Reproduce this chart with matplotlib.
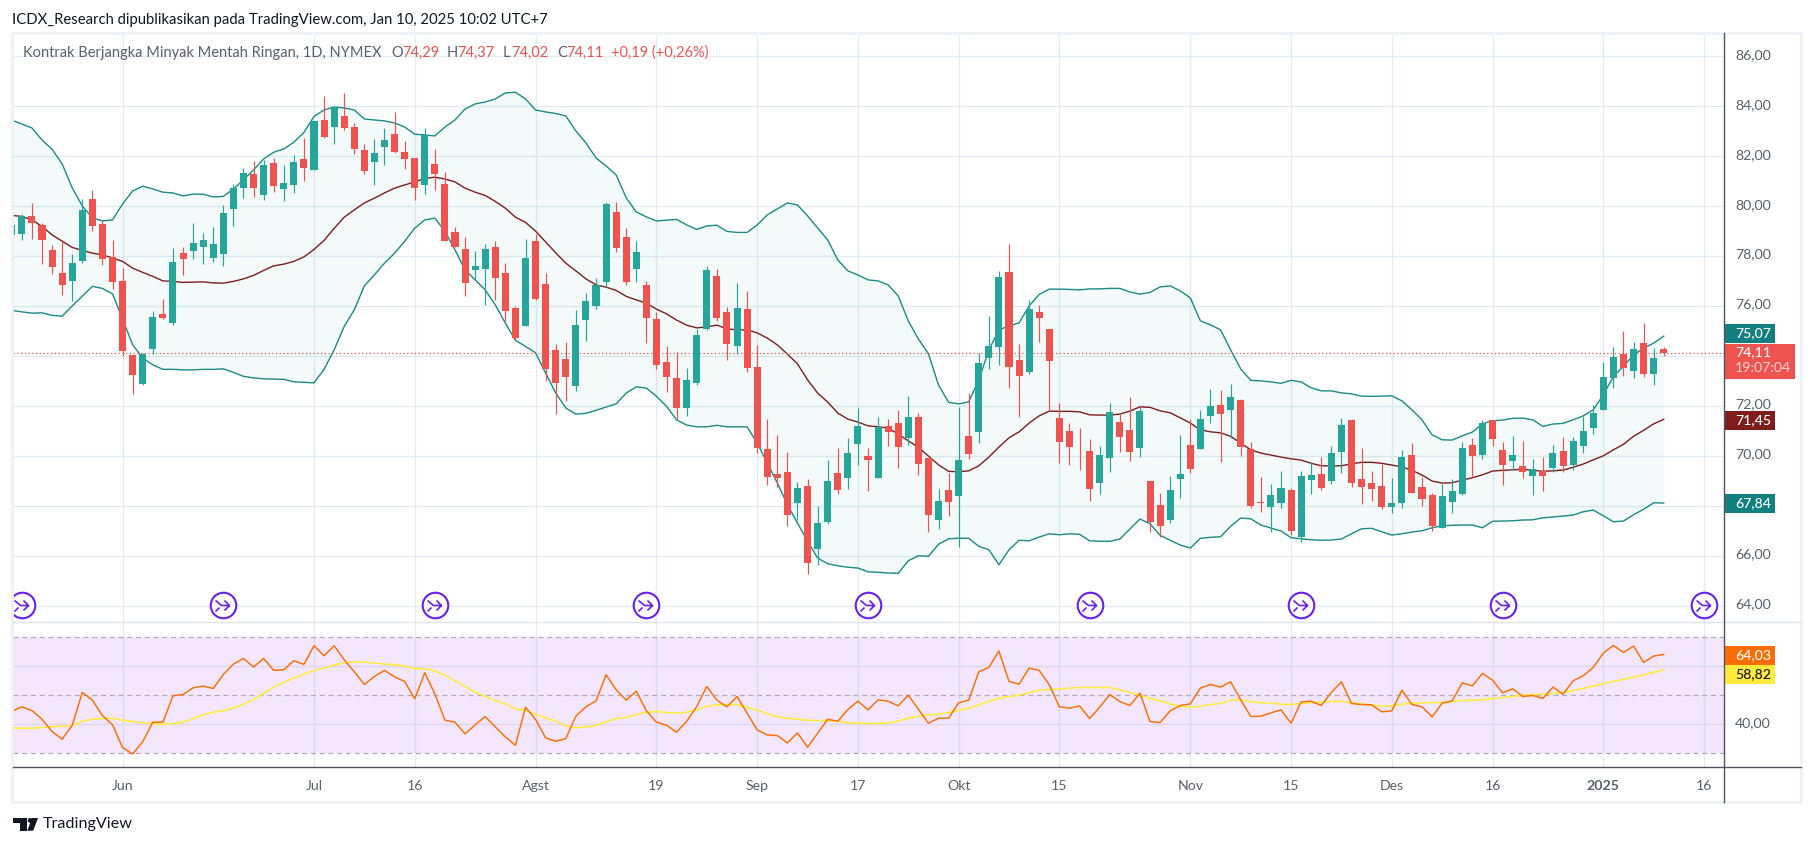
import matplotlib
matplotlib.use('Agg')
import matplotlib.pyplot as plt
from matplotlib.patches import Rectangle, Polygon, Circle
from matplotlib.path import Path
from matplotlib.transforms import ScaledTranslation
import numpy as np

plt.rcParams['font.family'] = ['Lato', 'DejaVu Sans']

# daily candles (bar number = trading day on screen)
opens = [78.83, 78.89, 79.61, 79.25, 78.25, 77.33, 77.01, 77.81, 80.29, 79.29,
         77.97, 77.01, 74.05, 72.89, 74.29, 75.69, 75.33, 78.13, 78.21, 78.37,
         77.93, 78.09, 79.89, 80.73, 81.29, 80.45, 81.73, 80.69, 80.85, 81.89,
         81.45, 83.45, 83.17, 83.61, 83.17, 82.25, 81.77, 82.37, 82.89, 82.17,
         81.93, 80.85, 81.69, 80.89, 78.97, 78.29, 77.45, 77.49, 78.37, 77.33,
         75.93, 75.21, 78.61, 76.89, 74.25, 73.89, 72.81, 75.45, 76.01, 76.97,
         79.77, 78.77, 77.49, 76.85, 75.49, 73.77, 73.13, 71.93, 72.93, 75.09,
         77.21, 75.77, 74.41, 75.89, 73.57, 70.29, 69.29, 69.37, 68.13, 68.81,
         66.29, 67.37, 69.33, 69.13, 70.49, 70.01, 69.13, 71.21, 71.33, 70.73,
         71.57, 69.93, 67.45, 68.65, 68.41, 70.81, 70.97, 73.93, 74.37, 77.37,
         73.85, 73.37, 75.77, 75.09, 71.53, 71.01, 70.69, 70.21, 68.93, 69.93,
         71.37, 71.05, 70.33, 69.01, 68.05, 67.45, 69.09, 70.45, 70.29, 71.61,
         72.05, 71.85, 72.25, 70.29, 68.17, 67.97, 68.13, 68.65, 66.77, 69.05,
         69.29, 69.01, 70.17, 71.45, 69.09, 68.93, 68.81, 67.97, 68.13, 70.05,
         68.77, 68.45, 67.13, 68.17, 68.49, 70.45, 70.05, 71.45, 70.25, 69.81,
         69.61, 69.21, 69.41, 69.53, 70.21, 69.65, 70.41, 71.13, 71.85, 73.13,
         74.09, 73.41, 74.53, 73.29, 74.29]
highs = [79.3, 79.69, 80.13, 79.32, 78.45, 78.63, 78.08, 80.29, 80.65, 79.44,
         78.65, 77.53, 74.05, 74.12, 75.81, 76.29, 78.33, 78.37, 79.33, 78.93,
         79.17, 80.05, 80.89, 81.53, 81.81, 81.85, 81.93, 81.65, 82.05, 82.73,
         83.41, 84.41, 83.97, 84.53, 83.33, 82.49, 82.69, 83.13, 83.77, 82.61,
         81.93, 83.13, 82.29, 81.37, 79.17, 78.77, 78.21, 78.49, 78.61, 77.73,
         76.01, 78.69, 78.89, 77.33, 74.49, 74.57, 75.85, 76.53, 77.13, 80.17,
         80.17, 79.13, 78.61, 77.01, 75.77, 74.41, 74.17, 73.53, 75.09, 77.61,
         77.49, 75.97, 76.93, 76.61, 74.45, 71.49, 70.85, 70.17, 68.97, 69.09,
         68.01, 69.85, 70.33, 70.73, 71.93, 70.33, 71.57, 71.49, 71.85, 72.41,
         71.73, 69.93, 68.69, 69.33, 71.97, 72.53, 74.13, 75.61, 77.41, 78.49,
         74.49, 76.25, 76.05, 75.09, 72.13, 71.33, 71.13, 70.69, 70.41, 72.13,
         71.69, 72.37, 71.97, 69.01, 68.53, 69.21, 70.85, 71.49, 71.85, 72.69,
         72.65, 72.89, 72.29, 70.57, 69.17, 68.89, 69.41, 68.73, 69.41, 69.77,
         69.97, 70.41, 71.53, 71.49, 70.33, 69.41, 69.69, 69.13, 70.25, 70.53,
         69.17, 68.53, 68.89, 69.09, 70.57, 70.73, 71.45, 71.45, 70.57, 70.81,
         70.61, 69.89, 69.97, 70.45, 70.77, 70.77, 71.61, 72.05, 73.77, 74.37,
         75.01, 74.57, 75.33, 74.33, 74.37]
lows = [78.75, 78.63, 78.69, 77.69, 77.29, 76.45, 76.19, 77.73, 79.01, 77.65,
        76.69, 74.01, 72.49, 72.85, 74.09, 75.5, 75.25, 77.25, 77.89, 77.69,
        77.77, 77.61, 79.21, 80.33, 80.37, 80.25, 80.57, 80.21, 80.53, 81.01,
        81.43, 82.73, 82.49, 83.05, 82.09, 81.29, 80.85, 81.65, 82.13, 81.49,
        80.25, 80.49, 80.65, 78.61, 78.37, 76.41, 77.05, 76.05, 76.25, 75.41,
        74.65, 75.21, 76.25, 73.01, 71.69, 72.21, 72.61, 74.61, 75.89, 76.77,
        78.17, 76.85, 76.97, 74.53, 73.49, 72.57, 71.49, 71.61, 72.85, 75.05,
        75.41, 73.85, 74.09, 73.37, 70.13, 68.85, 68.77, 67.21, 67.45, 65.29,
        65.65, 67.29, 68.49, 68.69, 69.65, 68.61, 69.13, 70.41, 69.53, 70.45,
        69.25, 66.97, 67.09, 67.61, 66.37, 69.89, 70.53, 73.49, 73.65, 72.73,
        71.57, 73.29, 74.57, 71.85, 69.73, 69.65, 69.45, 68.21, 68.49, 69.37,
        70.17, 69.81, 69.97, 66.97, 66.77, 67.33, 68.33, 69.33, 70.29, 71.33,
        69.77, 70.73, 70.01, 67.93, 67.77, 66.97, 67.93, 66.85, 66.57, 68.49,
        68.65, 68.89, 69.33, 68.77, 68.09, 68.21, 67.89, 67.73, 67.93, 68.53,
        68.01, 67.01, 67.13, 67.73, 68.45, 69.17, 69.89, 70.41, 68.85, 69.45,
        69.13, 68.45, 68.61, 69.37, 69.37, 69.45, 70.13, 70.89, 71.85, 72.73,
        73.21, 73.13, 73.17, 72.85, 74.02]
closes = [79.25, 79.61, 79.31, 78.65, 77.57, 76.85, 77.73, 79.85, 79.21, 77.89,
          76.97, 74.21, 73.25, 74.09, 75.57, 75.53, 77.77, 77.89, 78.53, 78.65,
          78.49, 79.73, 80.73, 81.33, 80.73, 81.65, 80.81, 80.93, 81.77, 81.53,
          83.41, 82.77, 83.93, 83.13, 82.29, 81.41, 82.13, 82.65, 82.17, 81.89,
          80.73, 82.85, 81.29, 78.61, 78.37, 76.93, 77.61, 78.29, 77.13, 75.81,
          74.73, 77.93, 76.29, 73.49, 72.93, 73.17, 75.25, 76.21, 76.85, 80.09,
          78.33, 76.97, 78.17, 75.53, 73.65, 73.17, 71.93, 73.05, 74.85, 77.45,
          75.53, 74.49, 75.93, 73.53, 70.33, 69.17, 69.13, 67.65, 68.73, 65.73,
          67.33, 69.01, 68.65, 70.13, 71.21, 69.85, 71.17, 70.97, 70.37, 71.57,
          69.69, 67.65, 68.21, 68.17, 69.85, 70.09, 73.73, 74.41, 77.17, 73.57,
          73.21, 75.89, 75.53, 73.81, 70.57, 70.37, 70.67, 68.69, 70.05, 71.77,
          70.77, 70.17, 71.81, 67.37, 67.21, 68.65, 69.29, 69.49, 71.49, 72.01,
          71.69, 72.37, 70.37, 68.01, 68.13, 68.45, 68.73, 67.01, 69.21, 69.25,
          68.73, 70.13, 71.25, 68.93, 68.77, 68.69, 67.97, 68.13, 69.97, 68.53,
          68.29, 67.21, 68.41, 68.61, 70.33, 70.01, 71.33, 70.69, 69.65, 70.05,
          69.37, 69.49, 69.21, 70.13, 69.61, 70.61, 71.01, 71.73, 73.17, 73.97,
          73.53, 74.29, 73.29, 73.93, 74.11]

# Bollinger bands
bb_upper = [83.44, 83.29, 83.13, 82.65, 82.28, 81.69, 80.73, 80.01, 79.53, 79.41,
            79.45, 80.09, 80.61, 80.80, 80.69, 80.56, 80.53, 80.41, 80.48, 80.48,
            80.37, 80.39, 80.69, 81.05, 81.45, 81.89, 82.16, 82.29, 82.56, 82.95,
            83.59, 83.85, 83.97, 83.93, 83.85, 83.49, 83.45, 83.41, 83.33, 83.17,
            82.88, 82.85, 82.81, 83.17, 83.45, 83.89, 84.09, 84.17, 84.29, 84.53,
            84.56, 84.29, 83.85, 83.77, 83.71, 83.61, 83.01, 82.53, 81.93, 81.61,
            81.25, 80.33, 79.77, 79.57, 79.41, 79.44, 79.47, 79.25, 79.07, 79.21,
            79.24, 78.99, 78.95, 78.95, 79.25, 79.65, 79.89, 80.13, 80.05, 79.61,
            79.13, 78.65, 77.85, 77.41, 77.25, 77.05, 77.01, 76.85, 76.41, 75.41,
            74.69, 74.09, 72.85, 72.15, 72.09, 72.17, 73.05, 74.25, 75.05, 75.21,
            75.33, 76.01, 76.47, 76.68, 76.68, 76.67, 76.65, 76.69, 76.69, 76.71,
            76.71, 76.57, 76.48, 76.55, 76.77, 76.81, 76.61, 76.33, 75.41, 75.25,
            75.05, 74.25, 73.49, 73.03, 73.01, 72.97, 72.91, 73.03, 72.97, 72.73,
            72.61, 72.61, 72.53, 72.49, 72.40, 72.39, 72.40, 72.41, 72.21, 71.85,
            71.45, 70.85, 70.65, 70.64, 70.81, 70.96, 71.29, 71.41, 71.44, 71.51,
            71.52, 71.45, 71.19, 71.28, 71.31, 71.45, 71.61, 71.85, 72.45, 73.19,
            73.59, 74.05, 74.32, 74.52, 74.80]
bb_basis = [79.63, 79.59, 79.45, 79.19, 78.85, 78.60, 78.35, 78.23, 78.12, 78.05,
            77.93, 77.79, 77.52, 77.35, 77.19, 77.01, 76.99, 76.95, 76.96, 76.97,
            76.93, 76.92, 76.99, 77.09, 77.23, 77.43, 77.61, 77.68, 77.79, 77.97,
            78.27, 78.63, 79.11, 79.56, 79.85, 80.13, 80.32, 80.53, 80.72, 80.85,
            80.97, 81.11, 81.16, 81.09, 80.97, 80.72, 80.56, 80.43, 80.19, 79.92,
            79.56, 79.35, 79.00, 78.57, 78.13, 77.72, 77.41, 77.09, 76.85, 76.76,
            76.63, 76.39, 76.25, 76.12, 75.88, 75.69, 75.44, 75.24, 75.13, 75.17,
            75.24, 75.09, 75.05, 75.05, 74.93, 74.72, 74.45, 74.08, 73.69, 73.05,
            72.52, 72.16, 71.72, 71.48, 71.36, 71.21, 71.17, 71.12, 70.88, 70.61,
            70.35, 70.00, 69.65, 69.39, 69.37, 69.41, 69.61, 69.96, 70.36, 70.73,
            70.97, 71.32, 71.61, 71.80, 71.79, 71.79, 71.77, 71.65, 71.64, 71.64,
            71.68, 71.80, 71.97, 71.95, 71.81, 71.73, 71.53, 71.32, 71.05, 70.97,
            70.93, 70.79, 70.52, 70.25, 70.12, 70.04, 69.96, 69.89, 69.84, 69.71,
            69.61, 69.61, 69.61, 69.69, 69.75, 69.75, 69.71, 69.64, 69.57, 69.43,
            69.24, 69.00, 68.92, 68.93, 69.04, 69.13, 69.25, 69.40, 69.43, 69.45,
            69.47, 69.43, 69.39, 69.41, 69.44, 69.55, 69.68, 69.85, 70.01, 70.25,
            70.47, 70.79, 71.03, 71.29, 71.47]
bb_lower = [75.83, 75.77, 75.72, 75.73, 75.63, 75.60, 76.01, 76.40, 76.79, 76.71,
            76.49, 75.48, 74.45, 73.92, 73.65, 73.47, 73.47, 73.45, 73.45, 73.47,
            73.47, 73.49, 73.35, 73.19, 73.13, 73.09, 73.08, 73.07, 72.97, 72.95,
            72.93, 73.47, 74.25, 75.19, 75.85, 76.81, 77.25, 77.72, 78.12, 78.59,
            79.12, 79.45, 79.52, 78.99, 78.25, 77.45, 77.05, 76.65, 76.05, 75.32,
            74.63, 74.39, 74.13, 73.32, 72.52, 71.92, 71.68, 71.71, 71.83, 71.96,
            72.09, 72.52, 72.77, 72.72, 72.39, 71.99, 71.45, 71.24, 71.17, 71.17,
            71.23, 71.17, 71.17, 71.17, 70.52, 69.72, 68.92, 68.05, 67.32, 66.59,
            65.92, 65.69, 65.61, 65.55, 65.52, 65.37, 65.35, 65.32, 65.31, 65.81,
            66.01, 65.99, 66.47, 66.69, 66.71, 66.71, 66.39, 66.25, 65.65, 66.25,
            66.63, 66.61, 66.76, 66.89, 66.85, 66.89, 66.87, 66.61, 66.59, 66.59,
            66.68, 67.08, 67.48, 67.29, 66.83, 66.63, 66.44, 66.32, 66.71, 66.75,
            66.77, 67.19, 67.52, 67.49, 67.24, 67.12, 67.00, 66.73, 66.69, 66.65,
            66.63, 66.64, 66.68, 66.89, 67.09, 67.11, 66.97, 66.84, 66.89, 66.96,
            67.01, 67.13, 67.21, 67.23, 67.24, 67.24, 67.13, 67.39, 67.40, 67.41,
            67.44, 67.45, 67.53, 67.56, 67.60, 67.64, 67.77, 67.84, 67.61, 67.37,
            67.40, 67.65, 67.87, 68.13, 68.12]

# RSI pane
rsi = [44.48, 45.98, 44.71, 41.72, 37.47, 34.83, 39.66, 50.92, 48.28, 42.99,
       39.77, 31.95, 29.77, 34.02, 40.69, 40.69, 49.77, 50.23, 52.53, 53.10,
       52.30, 57.13, 60.69, 62.64, 59.66, 62.64, 58.51, 58.74, 61.84, 60.57,
       67.01, 63.56, 67.01, 62.18, 58.05, 53.68, 56.44, 58.51, 56.32, 54.71,
       48.74, 57.70, 50.46, 41.38, 40.69, 36.67, 39.77, 42.64, 39.08, 35.63,
       32.76, 45.86, 41.61, 35.29, 34.14, 35.06, 42.76, 45.98, 48.05, 57.01,
       51.84, 48.28, 51.38, 44.60, 40.69, 39.66, 37.24, 41.03, 46.09, 52.99,
       48.28, 45.98, 49.54, 43.79, 38.05, 36.32, 36.09, 33.56, 37.01, 32.07,
       36.90, 41.72, 41.03, 45.06, 47.93, 44.94, 48.39, 47.93, 46.32, 50.00,
       45.17, 40.34, 42.07, 42.07, 47.36, 48.28, 58.05, 59.54, 65.17, 54.71,
       53.79, 59.31, 58.51, 53.56, 45.98, 45.52, 46.32, 41.95, 45.86, 50.23,
       47.82, 46.44, 50.69, 40.92, 40.57, 44.60, 46.44, 47.01, 52.41, 53.68,
       52.76, 54.60, 48.39, 42.64, 42.76, 43.91, 44.94, 40.34, 47.70, 47.93,
       46.44, 50.92, 54.60, 47.13, 46.78, 46.67, 44.25, 44.60, 51.72, 46.78,
       45.98, 42.53, 47.24, 48.05, 54.25, 53.22, 57.47, 55.17, 50.80, 52.18,
       49.54, 49.88, 48.85, 52.76, 50.34, 54.94, 56.67, 59.54, 64.48, 67.13,
       64.71, 66.90, 61.26, 63.45, 64.03]
rsi_ma = [38.74, 38.62, 38.62, 38.85, 39.20, 39.31, 39.54, 41.03, 41.72, 41.95,
          42.07, 41.38, 40.92, 40.46, 40.11, 40.00, 40.23, 40.69, 41.84, 43.22,
          44.14, 44.60, 45.52, 46.90, 48.39, 50.69, 52.76, 54.37, 55.86, 57.24,
          58.39, 59.31, 60.34, 61.15, 61.49, 61.38, 61.03, 60.69, 60.46, 60.00,
          59.20, 59.08, 58.39, 56.90, 54.94, 52.99, 51.03, 49.54, 48.16, 47.01,
          45.29, 44.71, 43.45, 42.18, 41.03, 39.43, 38.74, 39.08, 39.54, 40.92,
          41.95, 42.41, 43.33, 44.14, 44.37, 44.02, 43.79, 44.14, 44.94, 46.21,
          46.67, 46.78, 46.78, 45.86, 44.83, 43.56, 42.53, 42.07, 41.72, 41.38,
          41.26, 41.26, 41.03, 40.46, 40.34, 40.23, 40.23, 40.46, 41.03, 42.07,
          42.64, 43.22, 43.45, 44.02, 44.83, 45.40, 46.67, 47.82, 48.97, 49.54,
          50.00, 50.80, 51.72, 51.95, 52.07, 52.41, 52.64, 52.64, 52.64, 52.64,
          51.84, 50.92, 49.88, 48.97, 48.05, 47.01, 46.21, 45.86, 46.21, 46.78,
          47.13, 48.28, 48.39, 47.70, 47.36, 47.24, 46.90, 46.78, 47.13, 47.47,
          47.59, 47.82, 47.93, 47.36, 47.01, 46.55, 46.21, 46.32, 46.90, 47.24,
          47.36, 47.47, 47.47, 47.70, 48.16, 48.28, 48.39, 48.85, 49.20, 49.54,
          50.00, 50.23, 50.34, 50.57, 50.92, 51.61, 52.30, 53.10, 53.91, 54.83,
          55.40, 56.21, 57.01, 57.82, 58.82]

# time axis
time_ticks = [11, 30, 40, 52, 64, 74, 84, 94, 104, 117, 127, 137, 147, 158, 168]
time_labels = ['Jun', 'Jul', '16', 'Agst', '19', 'Sep', '17', 'Okt', '15', 'Nov',
               '15', 'Des', '16', '2025', '16']
price_ticks = [64, 66, 68, 70, 72, 74, 76, 78, 80, 82, 84, 86]
hidden_price_ticks = [68, 74]   # sit under the value tags
event_bars = [1, 21, 42, 63, 85, 107, 128, 148, 168]
event_price = 64.05
last_price = 74.11

GREEN = '#26a69a'
RED = '#ef5350'
GRID = '#e4ecf2'
TEAL = '#1c8a87'
MAROON = '#7f1d1d'
PURPLE = '#6a1ff5'
GREY = '#5d606b'

W, H = 1814, 846
fig = plt.figure(figsize=(W / 100, H / 100), dpi=100, facecolor='white')
nudge_up = ScaledTranslation(0, 0.025, fig.dpi_scale_trans)


def pane(top, bottom):
    return fig.add_axes([13 / W, 1 - bottom / H, (1724 - 13) / W, (bottom - top) / H])


def setup(ax, yticks):
    for s in ax.spines.values():
        s.set_visible(False)
    ax.set_xlim(0.12, 169.98)
    ax.set_xticks(time_ticks)
    ax.set_yticks(yticks)
    ax.yaxis.tick_right()
    ax.grid(True, color=GRID, lw=1.0)
    ax.set_axisbelow(True)
    ax.tick_params(length=0, colors=GREY, labelsize=10.2)


ax = pane(33, 622)
setup(ax, price_ticks)
ax.set_ylim(63.36, 86.93)
ax.set_xticklabels([])
ax.set_yticklabels(['' if p in hidden_price_ticks else f'{p},00' for p in price_ticks])
ax.tick_params(axis='y', pad=8)
for lab in ax.get_yticklabels():
    lab.set_transform(lab.get_transform() + nudge_up)

x = np.arange(len(closes))
ax.fill_between(x, bb_lower, bb_upper, color='#26a69a', alpha=0.055, lw=0, zorder=1)
ax.plot(x, bb_upper, color=TEAL, lw=1.0, zorder=2)
ax.plot(x, bb_lower, color=TEAL, lw=1.0, zorder=2)
ax.plot(x, bb_basis, color=MAROON, lw=1.0, zorder=2)
ax.axhline(last_price, color=RED, lw=0.9, ls=(0, (1, 2)), zorder=2)

cols = [GREEN if c >= o else RED for o, c in zip(opens, closes)]
ax.vlines(x, lows, highs, colors=cols, lw=0.85, zorder=3)
ax.bar(x, np.abs(np.array(closes) - np.array(opens)), bottom=np.minimum(opens, closes),
       width=0.7, color=cols, lw=0, zorder=4)

# session break markers
ax.plot(event_bars, [event_price] * len(event_bars), ls='', marker='o', ms=18.4,
        mfc='white', mec=PURPLE, mew=1.5, zorder=5)
arrow = Path([(-8, 5), (-2, 0), (6, 0), (1, 5), (6, 0), (1, -5), (-8, -6), (-4, -2)],
             [Path.MOVETO, Path.LINETO, Path.LINETO, Path.LINETO, Path.MOVETO, Path.LINETO,
              Path.MOVETO, Path.LINETO])
ax.plot(event_bars, [event_price] * len(event_bars), ls='', marker=arrow, ms=11.5,
        mfc='none', mec=PURPLE, mew=1.2, zorder=6)

ax2 = pane(622, 767)
setup(ax2, [40, 60])
ax2.set_ylim(25.28, 75.17)
ax2.set_yticklabels(['40,00', ''])
ax2.tick_params(axis='y', pad=8)
ax2.tick_params(axis='x', pad=9)
for lab in ax2.get_yticklabels():
    lab.set_transform(lab.get_transform() + nudge_up)
ax2.set_xticklabels(time_labels)
for lab, txt in zip(ax2.get_xticklabels(), time_labels):
    if txt == '2025':
        lab.set_fontweight('bold')
ax2.axhspan(30, 70, color='#9b1ff0', alpha=0.105, lw=0, zorder=1)
for lvl in [30, 50, 70]:
    ax2.axhline(lvl, color='#b3a9b8', lw=0.9, ls=(0, (4, 3)), zorder=2)
ax2.plot(x, rsi_ma, color='#ffeb3b', lw=1.15, zorder=3)
ax2.plot(x, rsi, color='#ff6d00', lw=1.05, zorder=4)

# chrome, in pixel coordinates
top = fig.add_axes([0, 0, 1, 1])
top.set_xlim(0, W)
top.set_ylim(H, 0)
top.axis('off')
top.patch.set_visible(False)
top.add_patch(Rectangle((12, 33), 1789, 769, fill=False, ec='#eff1f7', lw=2))
top.plot([13, 1801], [622.3, 622.3], color='#e0e3eb', lw=1)
top.plot([13, 1801], [767, 767], color='#50535e', lw=1)
top.plot([1724, 1724], [33, 802], color='#50535e', lw=1)


def label(px, py, s, color=GREY, size=10.2, **kw):
    top.text(px, py, s, color=color, fontsize=size, va='center', **kw)


def tag(py0, py1, color, s, tcolor='white', px1=1775, ty=None):
    top.add_patch(Rectangle((1725, py0), px1 - 1725, py1 - py0, color=color, lw=0))
    label(1735, (py0 + py1) / 2 if ty is None else ty, s, color=tcolor, fontweight='medium')


label(12, 20, 'ICDX_Research dipublikasikan pada TradingView.com, Jan 10, 2025 10:02 UTC+7',
      color='#131722', size=10.72)
label(23, 53, 'Kontrak Berjangka Minyak Mentah Ringan, 1D, NYMEX', size=10.55)
for px, s, col in [(391.5, 'O', GREY), (402, '74,29', RED), (447, 'H', GREY), (457, '74,37', RED),
                   (503, 'L', GREY), (511, '74,02', RED), (557, 'C', GREY), (566, '74,11', RED),
                   (611, '+0,19 (+0,26%)', RED)]:
    label(px, 53, s, color=col, size=10.55)

tag(324, 342.7, '#12807f', '75,07')
tag(344, 379, RED, '74,11', px1=1795, ty=352.5)
label(1735, 368.5, '19:07:04', color='#fbd5d4', size=10.2)
tag(411, 429.7, MAROON, '71,45')
tag(494, 512.7, '#12807f', '67,84')
tag(646, 664.7, '#ff6d00', '64,03')
tag(665, 683.7, '#ffeb3b', '58,82', tcolor='#131722')

# TradingView logo
top.add_patch(Polygon([(13, 818), (26.5, 818), (26.5, 830.7), (19.5, 830.7), (19.5, 823), (13, 823)],
                      color='#131722', lw=0))
top.add_patch(Circle((30.2, 820.4), 2.4, color='#131722', lw=0))
top.add_patch(Polygon([(38, 818), (33.2, 830.7), (27.2, 830.7), (32.2, 818)], color='#131722', lw=0))
label(43, 824, 'TradingView', color='#131722', size=11.6)

fig.savefig('out.png', dpi=100)
